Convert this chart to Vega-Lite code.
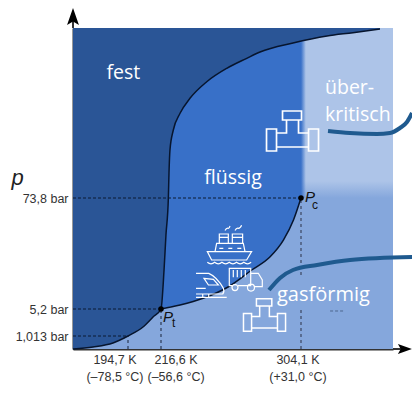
{
"$schema":"https://vega.github.io/schema/vega-lite/v6.json",
"width":320,"height":321,
"autosize":{"type":"none"},
"padding":{"left":73,"top":28,"right":19,"bottom":55},
"background":"white",
"config":{"view":{"stroke":null}},
"datasets":{
"curves":[
{"curve":"sublimation","T":161,"p":0},
{"curve":"sublimation","T":173.25,"p":0.156},
{"curve":"sublimation","T":185.5,"p":0.467},
{"curve":"sublimation","T":194.7,"p":1.013},
{"curve":"sublimation","T":204.65,"p":2.409},
{"curve":"sublimation","T":211.3,"p":3.96},
{"curve":"sublimation","T":216.6,"p":5.2},
{"curve":"melting","T":218.5,"p":29.3},
{"curve":"melting","T":219.7,"p":50.9},
{"curve":"melting","T":221.2,"p":73.8},
{"curve":"melting","T":221.6,"p":210},
{"curve":"melting","T":222.2,"p":335.3},
{"curve":"melting","T":224.3,"p":444.3},
{"curve":"melting","T":228.5,"p":535.3},
{"curve":"melting","T":234.7,"p":617},
{"curve":"melting","T":245.2,"p":707.4},
{"curve":"melting","T":257.7,"p":780.4},
{"curve":"melting","T":270.2,"p":834.9},
{"curve":"melting","T":278.5,"p":869.2},
{"curve":"melting","T":299.1,"p":918.2},
{"curve":"melting","T":320.5,"p":956.4},
{"curve":"melting","T":336.8,"p":974.4},
{"curve":"melting","T":353.8,"p":994.5},
{"curve":"vaporization","T":216.6,"p":5.2},
{"curve":"vaporization","T":228.5,"p":7.67},
{"curve":"vaporization","T":242.9,"p":11.8},
{"curve":"vaporization","T":258.5,"p":18.8},
{"curve":"vaporization","T":273.3,"p":29.3},
{"curve":"vaporization","T":284.8,"p":37.5},
{"curve":"vaporization","T":293.1,"p":47.8},
{"curve":"vaporization","T":299.4,"p":60.2},
{"curve":"vaporization","T":304.1,"p":73.8}
],
"pipes":[
{"pipe":"upper","T":321.1,"p":438.8},
{"pipe":"upper","T":334.9,"p":427.9},
{"pipe":"upper","T":351.9,"p":422.5},
{"pipe":"upper","T":360.1,"p":427.9},
{"pipe":"upper","T":366.4,"p":455.2},
{"pipe":"upper","T":370.8,"p":487.8},
{"pipe":"upper","T":374,"p":536.9},
{"pipe":"lower","T":284.1,"p":16.9},
{"pipe":"lower","T":291,"p":24.4},
{"pipe":"lower","T":299.1,"p":29.3},
{"pipe":"lower","T":314.2,"p":32.4},
{"pipe":"lower","T":335,"p":35.5},
{"pipe":"lower","T":374,"p":37.3}
]
},
"data":{"values":[{"T":161,"p":0}]},
"encoding":{
"x":{"field":"T","type":"quantitative","scale":{"domain":[161,194.7,216.6,304.1,362],"range":[0,55,88,228,320],"nice":false,"zero":false},
"axis":{"values":[194.7,216.6,304.1],"title":"T","titleFont":"Liberation Sans","titleFontStyle":"italic","titleFontWeight":"normal","titleFontSize":22,"titleColor":"#222","titleX":170,"titleY":367,"titleAlign":"center","titleBaseline":"middle","grid":false,"ticks":false,"domainColor":"#333","domainWidth":2,"labels":false}},
"y":{"field":"p","type":"quantitative","scale":{"domain":[0,1.013,5.2,73.8,1000],"range":[321,308,281,170,0],"nice":false,"zero":false},
"axis":{"values":[1.013,5.2,73.8],"title":"p","titleFont":"Liberation Sans","titleFontStyle":"italic","titleFontWeight":"normal","titleFontSize":22,"titleColor":"#222","titleAngle":0,"titleX":-56,"titleY":149,"titleAlign":"center","titleBaseline":"middle","grid":false,"ticks":false,"domainColor":"#333","domainWidth":2,"labelFont":"Liberation Sans","labelFontSize":12.5,"labelColor":"#333","labelPadding":5,"labelOverlap":false,"labelBound":false,
"labelExpr":"datum.value==1.013?'1,013 bar':datum.value==5.2?'5,2 bar':'73,8 bar'"}}
},
"layer":[
{"data":{"values":[{"T":161,"T2":362,"p":0,"p2":1000}]},"mark":{"type":"rect","fill":"#85a7dc"},"encoding":{"x2":{"field":"T2"},"y2":{"field":"p2"}}},
{"data":{"values":[{"T":161,"T2":304.1,"p":0,"p2":1000}]},"mark":{"type":"rect","fill":"#3870c8"},"encoding":{"x2":{"field":"T2"},"y2":{"field":"p2"}}},
{"data":{"values":[{"T":304.1,"T2":362,"p":73.8,"p2":1000}]},"mark":{"type":"rect","fill":{"gradient":"linear","x1":0,"y1":0,"x2":0,"y2":1,"stops":[{"offset":0,"color":"#adc4e8"},{"offset":0.9,"color":"#adc4e8"},{"offset":1,"color":"#85a7dc"}]}},"encoding":{"x2":{"field":"T2"},"y2":{"field":"p2"}}},
{"data":{"values":[{"T":304.1,"T2":307.2,"p":73.8,"p2":1000}]},"mark":{"type":"rect","fill":{"gradient":"linear","x1":0,"y1":0,"x2":1,"y2":0,"stops":[{"offset":0,"color":"rgba(56,112,200,1)"},{"offset":1,"color":"rgba(56,112,200,0)"}]}},"encoding":{"x2":{"field":"T2"},"y2":{"field":"p2"}}},
{"data":{"name":"curves"},"transform":[{"filter":{"field":"curve","oneOf":["sublimation","vaporization"]}}],"mark":{"type":"area","fill":"#85a7dc","opacity":1,"interpolate":"monotone"},"encoding":{"y2":{"datum":0}}},
{"data":{"name":"curves"},"transform":[{"filter":{"field":"curve","oneOf":["sublimation","melting"]}}],"mark":{"type":"area","fill":"#2a5596","opacity":1,"interpolate":"monotone"},"encoding":{"y2":{"datum":1000}}},
{"data":{"values":[{"T":161,"T2":304.1,"p":73.8},{"T":161,"T2":216.6,"p":5.2},{"T":161,"T2":194.7,"p":1.013}]},"mark":{"type":"rule","color":"#0b1a33","strokeWidth":1,"strokeDash":[3,2]},"encoding":{"x2":{"field":"T2"}}},
{"data":{"values":[{"T":322.4,"T2":331.2,"p":4.89}]},"mark":{"type":"rule","color":"#0b1a33","strokeWidth":1,"strokeDash":[3,2],"opacity":0.45},"encoding":{"x2":{"field":"T2"}}},
{"data":{"values":[{"T":194.7,"p":0,"p2":1.013},{"T":216.6,"p":0,"p2":5.2}]},"mark":{"type":"rule","color":"#2c3a55","strokeWidth":1.2,"strokeDash":[3,3]},"encoding":{"y2":{"field":"p2"}}},
{"data":{"values":[{"T":304.1,"p":0,"p2":5.04},{"T":304.1,"p":26.2,"p2":73.8}]},"mark":{"type":"rule","color":"#4a5a78","strokeWidth":1.5,"strokeDash":[3,3]},"encoding":{"y2":{"field":"p2"}}},
{"data":{"name":"curves"},"transform":[{"filter":{"field":"curve","oneOf":["sublimation","melting"]}}],"mark":{"type":"line","color":"#07152e","strokeWidth":1.5,"interpolate":"monotone"}},
{"data":{"name":"curves"},"transform":[{"filter":{"field":"curve","equal":"vaporization"}}],"mark":{"type":"line","color":"#07152e","strokeWidth":1.5,"interpolate":"monotone"}},
{"data":{"name":"pipes"},"mark":{"type":"line","color":"#1f5a8f","strokeWidth":4,"interpolate":"monotone","strokeCap":"butt"},"encoding":{"detail":{"field":"pipe"}}},
{"data":{"values":[{"T":216.6,"p":5.2},{"T":304.1,"p":73.8}]},"mark":{"type":"point","filled":true,"fill":"#000","size":30,"opacity":1}},
{"data":{"values":[{"T":161,"T2":161,"p":1000,"p2":1076}]},"mark":{"type":"rule","color":"#333","strokeWidth":2},"encoding":{"y2":{"field":"p2"}}},
{"data":{"values":[{"T":362,"T2":368,"p":0}]},"mark":{"type":"rule","color":"#333","strokeWidth":2},"encoding":{"x2":{"field":"T2"}}},
{"data":{"values":[{"T":161,"p":1062.6}]},"mark":{"type":"point","shape":"M0,-1L0.7,1L0,0.6L-0.7,1Z","filled":true,"fill":"#000","size":289,"opacity":1,"strokeWidth":0}},
{"data":{"values":[{"T":369.5,"p":0}]},"mark":{"type":"point","shape":"M1,0L-1,0.7L-0.6,0L-1,-0.7Z","filled":true,"fill":"#000","size":196,"opacity":1,"strokeWidth":0}},
{"data":{"values":[{"T":298.8,"p":438.8}]},"mark":{"type":"point","shape":"M-10,-20H9V-11H-10ZM-6,-11V2H-16M6,-11V2H16M-16,16H16M-16,-2H-26V20H-16ZM16,-2H26V20H16Z","filled":false,"fill":null,"stroke":"#fff","strokeWidth":1.7,"size":4,"opacity":1}},
{"data":{"values":[{"T":281.3,"p":4.27}]},"mark":{"type":"point","shape":"M-10,-20H9V-11H-10ZM-6,-11V2H-16M6,-11V2H16M-16,16H16M-16,-2H-26V20H-16ZM16,-2H26V20H16Z","filled":false,"fill":null,"stroke":"#fff","strokeWidth":1.5,"size":2.62,"opacity":1}},
{"data":{"values":[{"T":259.3,"p":45.8}]},"mark":{"type":"point","shape":"M-22,8.3H22.3L17.3,16.7H-17.7ZM-14.3,8.3L-12.7,0H14L15.7,8.3M-10,0V-9.3H-1V0M-10,-6H-1M3,0V-9.3H13.3V0M3,-6H13.3M-4.3,-12.7Q-3,-15.5 -1,-15Q0,-15 0.7,-17.3M5.7,-12.7Q7,-15.5 9,-15Q11,-15 12.3,-18M-10,5H-6M-1,5H3M8,5H12M-22,19q3.7,3 7.3,0q3.7,3 7.3,0q3.7,3 7.3,0q3.7,3 7.3,0q3.7,3 7.3,0q3.7,3 7.3,0","filled":false,"fill":null,"stroke":"#fff","strokeWidth":1.2,"size":4,"opacity":1}},
{"data":{"values":[{"T":269.1,"p":24.8}]},"mark":{"type":"point","shape":"M-13,8.3H-15.7V-9H5.7V8.3H3M-7,8.3H3M-11.7,-7.3V0M-7.7,-7.3V0M-3.7,-7.3V0M0.3,-7.3V0M5.7,-4H13.3L17.3,2.7V9.3H9.5M-13,10.3a3,3 0 1,0 6,0a3,3 0 1,0 -6,0M2.5,10.3a3.5,3.5 0 1,0 7,0a3.5,3.5 0 1,0 -7,0","filled":false,"fill":null,"stroke":"#fff","strokeWidth":1.2,"size":4,"opacity":1}},
{"data":{"values":[{"T":248.3,"p":19.6}]},"mark":{"type":"point","shape":"M-15.7,-12.3H-3Q5,-9 11.7,2.7Q13,6 11,8.3H-15.7M-15.7,2.7H-6M-7.7,-7.3L1.7,-6.3L6.7,-0.7H-3.3ZM-15.7,11.7H15M-9,8.3V11.7M-3,8.3V11.7","filled":false,"fill":null,"stroke":"#fff","strokeWidth":1.2,"size":4,"opacity":1}},
{"data":{"values":[{"T":191.9,"p":754.8,"label":"fest"},{"T":261.6,"p":182.8,"label":"flüssig"}]},"mark":{"type":"text","font":"Open Sans","fontSize":19.5,"color":"#fff","align":"center","baseline":"middle"},"encoding":{"text":{"field":"label"}}},
{"data":{"values":[{"T":319.2,"p":673.1,"label":"über-"},{"T":319.2,"p":526,"label":"kritisch"}]},"mark":{"type":"text","font":"Open Sans","fontSize":19.5,"color":"#fff","align":"left","baseline":"middle"},"encoding":{"text":{"field":"label"}}},
{"data":{"values":[{"T":289.1,"p":13.9,"label":"gasförmig"}]},"mark":{"type":"text","font":"Open Sans","fontSize":20,"color":"#fff","align":"left","baseline":"middle"},"encoding":{"text":{"field":"label"}}},
{"data":{"values":[{"T":306.6,"p":79.2,"label":"P"},{"T":217.85,"p":3.96,"label":"P"}]},"mark":{"type":"text","font":"Liberation Sans","fontStyle":"italic","fontSize":15,"color":"#111","align":"left","baseline":"middle"},"encoding":{"text":{"field":"label"}}},
{"data":{"values":[{"T":311,"p":69.5,"label":"c"},{"T":223.5,"p":3.03,"label":"t"}]},"mark":{"type":"text","font":"Liberation Sans","fontSize":12,"color":"#111","align":"left","baseline":"middle"},"encoding":{"text":{"field":"label"}}},
{"data":{"values":[{"T":186.7,"p":0,"label":"194,7 K"},{"T":226,"p":0,"label":"216,6 K"},{"T":302.2,"p":0,"label":"304,1 K"}]},"mark":{"type":"text","font":"Liberation Sans","fontSize":12.5,"color":"#333","align":"center","baseline":"middle","dy":11},"encoding":{"text":{"field":"label"}}},
{"data":{"values":[{"T":186.7,"p":0,"label":"(–78,5 °C)"},{"T":226,"p":0,"label":"(–56,6 °C)"},{"T":302.2,"p":0,"label":"(+31,0 °C)"}]},"mark":{"type":"text","font":"Liberation Sans","fontSize":12.5,"color":"#333","align":"center","baseline":"middle","dy":28},"encoding":{"text":{"field":"label"}}}
]
}
